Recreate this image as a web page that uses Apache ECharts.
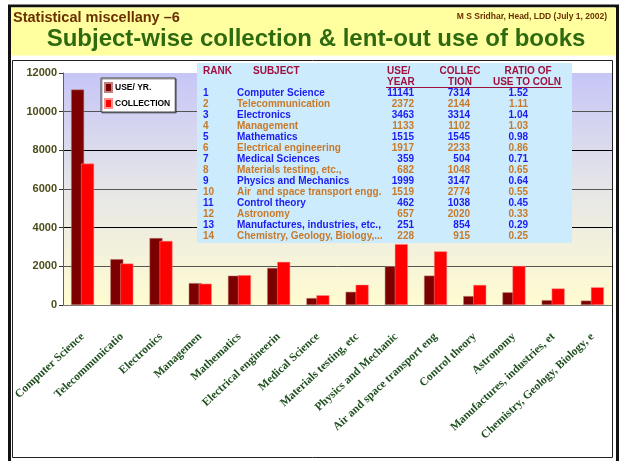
<!DOCTYPE html>
<html>
<head>
<meta charset="utf-8">
<title>Subject-wise collection & lent-out use of books</title>
<script src="https://cdn.jsdelivr.net/npm/echarts@6/dist/echarts.min.js"></script>
<style>
html,body{margin:0;padding:0;background:#fff;}
#main{width:621px;height:461px;}
</style>
</head>
<body>
<div id="main"></div>
<script>
// 横轴文字（原图被截断）
var axisNames = ['Computer Science','Telecommunicatio','Electronics','Managemen','Mathematics','Electrical engineerin','Medical Science','Materials testing, etc','Physics and Mechanic','Air and space transport eng','Control theory','Astronomy','Manufactures, industries, et','Chemistry, Geology, Biology, e'];
// 表格里的学科
var subjects = ['Computer Science','Telecommunication','Electronics','Management','Mathematics','Electrical engineering','Medical Sciences','Materials testing, etc.,','Physics and Mechanics','Air  and space transport engg.','Control theory','Astronomy','Manufactures, industries, etc.,','Chemistry, Geology, Biology,...'];
var useYear = [11141,2372,3463,1133,1515,1917,359,682,1999,1519,462,657,251,228];
var collection = [7314,2144,3314,1102,1545,2233,504,1048,3147,2774,1038,2020,854,915];
var ratio = ['1.52','1.11','1.04','1.03','0.98','0.86','0.71','0.65','0.64','0.55','0.45','0.33','0.29','0.25'];
var yTicks = {min:0, max:12000, interval:2000};

var blue = '#1c1cf0', brown = '#c87a2a', head = '#a0103c';

function txt(x,y,s,font,fill,align,z){
	return {type:'text', x:x, y:y, z:z||100, silent:true,
		style:{text:s, font:font, fill:fill, align:align||'left', verticalAlign:'middle'}};
}

//表格
function buildTable(){
	var els = [];
	els.push({type:'rect', z:90, silent:true, shape:{x:197,y:63,width:375,height:180}, style:{fill:'#ccebfd'}});
	var hf = 'bold 10px Arial';
	els.push(txt(203,71,'RANK',hf,head));
	els.push(txt(253,71,'SUBJECT',hf,head));
	els.push(txt(387,71,'USE/',hf,head));
	els.push(txt(387,82,'YEAR',hf,head));
	els.push(txt(460,71,'COLLEC',hf,head,'center'));
	els.push(txt(460,82,'TION',hf,head,'center'));
	els.push(txt(528,71,'RATIO OF',hf,head,'center'));
	els.push(txt(527,82,'USE TO COLN',hf,head,'center'));
	els.push({type:'line', z:100, silent:true, shape:{x1:386,y1:87.5,x2:562,y2:87.5}, style:{stroke:head,lineWidth:1}});
	for(var i=0;i<subjects.length;i++){
		var y = 93.5 + i*11;
		var c = i%2==0 ? blue : brown;
		var f = 'bold 10px Arial';
		els.push(txt(203,y,String(i+1),f,c));
		els.push(txt(237,y,subjects[i],f,c));
		els.push(txt(414,y,String(useYear[i]),f,c,'right'));
		els.push(txt(470,y,String(collection[i]),f,c,'right'));
		els.push(txt(528,y,ratio[i],f,c,'right'));
	}
	return els;
}

function buildFrame(){
	var els = [];
	// 外框
	els.push({type:'rect', z:-20, silent:true, shape:{x:9.5,y:6,width:608,height:460}, style:{fill:'#fff',stroke:'#111',lineWidth:3}});
	// 标题底色
	els.push({type:'rect', z:-19, silent:true, shape:{x:11,y:7.5,width:604,height:48}, style:{fill:'#ffffa0'}});
	// 图表框
	els.push({type:'rect', z:-18, silent:true, shape:{x:12.5,y:60.5,width:600,height:397}, style:{fill:'#fff',stroke:'#222',lineWidth:1}});
	els.push(txt(13,18,'Statistical miscellany \u20136','bold 14.5px Arial','#6b3000','left',5));
	els.push(txt(607,17,'M S Sridhar, Head, LDD (July 1, 2002)','bold 8.5px Arial','#6b3000','right',5));
	els.push(txt(316,39,'Subject-wise collection & lent-out use of books','bold 24px Arial','#2e6a10','center',5));
	return els;
}

function initChart(){
	var myChart = echarts.init(document.getElementById('main'));
	var option = {
		animation:false,
		grid:{
			left:63, right:9, top:73, bottom:156,
			show:true, borderWidth:0,
			backgroundColor:new echarts.graphic.LinearGradient(0,0,0,1,[
				{offset:0,color:'#c6c6f7'},
				{offset:0.5,color:'#e6e6e8'},
				{offset:1,color:'#fffcd0'}
			])
		},
		legend:{
			orient:'vertical', left:101, top:78, z:120,
			backgroundColor:'#fff', borderColor:'#444', borderWidth:1,
			shadowColor:'rgba(0,0,0,0.4)', shadowOffsetX:1, shadowOffsetY:1, shadowBlur:0,
			padding:[4,5,3,3], itemWidth:7, itemHeight:9, itemGap:5,
			icon:'rect',
			textStyle:{fontFamily:'Arial', fontWeight:'bold', fontSize:8.5, color:'#000', padding:[0,0,0,-2]},
			data:['USE/ YR.','COLLECTION']
		},
		xAxis:{
			type:'category',
			data:axisNames,
			axisLine:{lineStyle:{color:'#777',width:1}},
			axisTick:{length:4, lineStyle:{color:'#333'}},
			axisLabel:{
				interval:0, rotate:43, margin:30,
				fontFamily:'Liberation Serif', fontWeight:'bold', fontSize:11.5, color:'#1f4f1f'
			}
		},
		yAxis:{
			type:'value',
			min:yTicks.min, max:yTicks.max, interval:yTicks.interval,
			axisLine:{show:true, lineStyle:{color:'#12941a'}},
			axisTick:{show:true, length:4, lineStyle:{color:'#333'}},
			axisLabel:{fontFamily:'Arial', fontWeight:'bold', fontSize:11, color:'#4d4d1c', margin:6,
				formatter:function(v){ return String(v); }},
			splitLine:{show:true, showMinLine:true, showMaxLine:false, lineStyle:{color:['#000','#555'], width:1}}
		},
		series:[{
			name:'USE/ YR.',
			type:'bar',
			data:useYear,
			barWidth:13,
			barGap:'-23%',
			barCategoryGap:'40%',
			itemStyle:{color:'#7c0000', borderColor:'#c08080', borderWidth:0.5}
		},{
			name:'COLLECTION',
			type:'bar',
			data:collection,
			barWidth:13,
			itemStyle:{color:'#ff0000', borderColor:'#ff9090', borderWidth:0.5}
		}],
		graphic:buildFrame().concat(buildTable())
	};
	myChart.setOption(option);
}

initChart();
</script>
</body>
</html>
